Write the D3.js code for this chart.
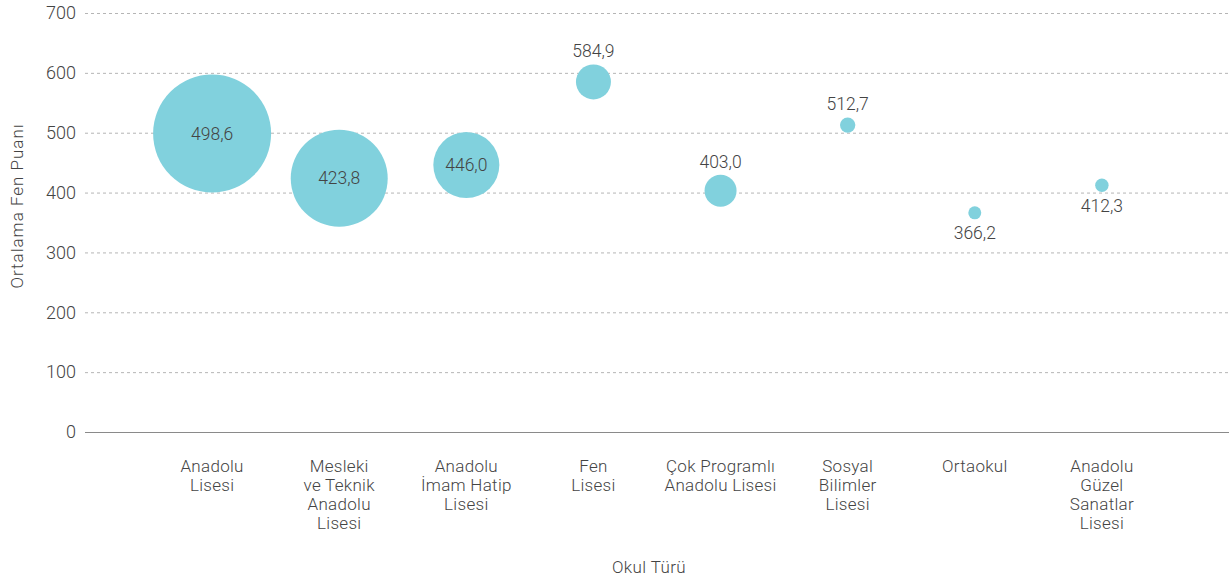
<!DOCTYPE html>
<html lang="tr">
<head>
<meta charset="utf-8">
<script src="https://cdn.jsdelivr.net/npm/d3@7/dist/d3.min.js"></script>
<style>
  html, body { margin: 0; padding: 0; background: #fff; }
  svg text { font-family: "Roboto", "Noto Sans", sans-serif; font-weight: 300; fill: #444; }
</style>
</head>
<body>
<svg id="chart" width="1231" height="583"></svg>
<script>
// Okul türü kategorileri (satır satır etiketler)
const categories = [
  "Anadolu Lisesi",
  "Mesleki ve Teknik Anadolu Lisesi",
  "Anadolu İmam Hatip Lisesi",
  "Fen Lisesi",
  "Çok Programlı Anadolu Lisesi",
  "Sosyal Bilimler Lisesi",
  "Ortaokul",
  "Anadolu Güzel Sanatlar Lisesi"
];
const categoryLines = [
  ["Anadolu", "Lisesi"],
  ["Mesleki", "ve Teknik", "Anadolu", "Lisesi"],
  ["Anadolu", "İmam Hatip", "Lisesi"],
  ["Fen", "Lisesi"],
  ["Çok Programlı", "Anadolu Lisesi"],
  ["Sosyal", "Bilimler", "Lisesi"],
  ["Ortaokul"],
  ["Anadolu", "Güzel", "Sanatlar", "Lisesi"]
];
// Ortalama fen puanı
const scores = [498.6, 423.8, 446.0, 584.9, 403.0, 512.7, 366.2, 412.3];
// Göreli öğrenci sayısı (balon alanı)
const bubbleSize = [3480, 2350, 1090, 306, 256, 59, 42, 45];
// Etiket konumu: içinde / üstte / altta
const labelPlacement = ["inside", "inside", "inside", "above", "above", "above", "below", "below"];
const yTicks = [0, 100, 200, 300, 400, 500, 600, 700];

const svg = d3.select("#chart");
const margin = { left: 85, right: 2, top: 13, bottom: 151 };
const W = 1231, H = 583;
const x0 = margin.left, x1 = W - margin.right;
const yTop = margin.top, yBot = H - margin.bottom;

const x = d3.scalePoint().domain(categories).range([x0, x1]).padding(1);
const y = d3.scaleLinear().domain([0, 700]).range([yBot, yTop]);
const r = d3.scaleSqrt().domain([0, d3.max(bubbleSize)]).range([0, 59]);

const fmt = v => v.toFixed(1).replace(".", ",");

// Yatay ızgara çizgileri
svg.append("g").selectAll("line").data(yTicks).join("line")
  .attr("x1", x0).attr("x2", x1)
  .attr("y1", d => y(d) + 0.5).attr("y2", d => y(d) + 0.5)
  .attr("stroke", d => d === 0 ? "#8a8a8a" : "#b5b5b5")
  .attr("stroke-width", 1)
  .attr("stroke-dasharray", d => d === 0 ? null : "3,3");

// Y ekseni etiketleri
const yAxis = d3.axisLeft(y).tickValues(yTicks).tickSize(0).tickPadding(9).tickFormat(d3.format("d"));
const gy = svg.append("g").attr("transform", `translate(${x0},0)`).call(yAxis);
gy.select(".domain").remove();
gy.selectAll("text").style("font-size", "18px").style("font-family", "Roboto, sans-serif")
  .style("font-weight", "300").attr("fill", "#444");

// Balonlar
const pts = categories.map((c, i) => ({ c, v: scores[i], s: bubbleSize[i], pos: labelPlacement[i], lines: categoryLines[i] }));
svg.append("g").selectAll("circle").data(pts).join("circle")
  .attr("cx", d => x(d.c)).attr("cy", d => y(d.v)).attr("r", d => r(d.s))
  .attr("fill", "#81d1dd");

// Değer etiketleri
svg.append("g").selectAll("text").data(pts).join("text")
  .attr("x", d => x(d.c))
  .attr("y", d => {
    const cy = y(d.v), rr = r(d.s);
    if (d.pos === "inside") return cy + 6;
    if (d.pos === "above") return cy - rr - 7;
    return cy + rr + 20;
  })
  .attr("text-anchor", "middle")
  .style("font-size", "17.5px")
  .text(d => fmt(d.v));

// X ekseni kategori etiketleri
const gx = svg.append("g");
pts.forEach(d => {
  const t = gx.append("text").attr("x", x(d.c)).attr("y", 472)
    .attr("text-anchor", "middle").style("font-size", "17px").style("letter-spacing", "0.3px");
  d.lines.forEach((ln, j) => {
    t.append("tspan").attr("x", x(d.c)).attr("dy", j === 0 ? 0 : 19).text(ln);
  });
});

// Eksen başlıkları
svg.append("text").attr("x", 649).attr("y", 573)
  .attr("text-anchor", "middle").style("font-size", "17px").style("letter-spacing", "0.4px").text("Okul Türü");
svg.append("text").attr("transform", `translate(23,206) rotate(-90)`)
  .attr("text-anchor", "middle").style("font-size", "17px").style("letter-spacing", "1px").text("Ortalama Fen Puanı");
</script>
</body>
</html>
